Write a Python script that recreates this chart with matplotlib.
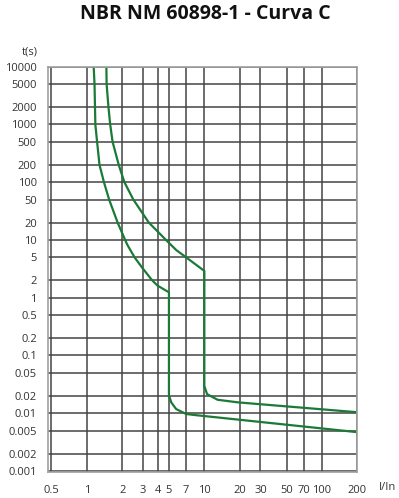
import matplotlib
matplotlib.use("Agg")
from matplotlib import pyplot as plt
from matplotlib.ticker import FixedLocator, FixedFormatter, NullLocator

# curve C, lower limit (instantaneous trip at 5 In)
i_low = [1.145, 1.164, 1.183, 1.224, 1.283, 1.40, 1.55, 1.83, 2.12, 2.21, 2.55, 2.97, 3.6, 4.0, 5.0, 5.0, 5.23, 5.76, 7.0, 8.3, 200]
t_low = [10000, 5000, 1000, 500, 200, 100, 50, 20, 10, 8.3, 5.0, 3.28, 2.0, 1.62, 1.24, 0.0205, 0.0154, 0.0118, 0.0097, 0.0093, 0.0047]

# curve C, upper limit (instantaneous trip at 10 In)
i_up = [1.468, 1.475, 1.529, 1.582, 1.658, 1.87, 2.09, 2.49, 3.37, 4.72, 5.76, 7.0, 10.0, 10.0, 10.55, 12.97, 19.4, 200]
t_up = [10000, 5000, 2000, 1000, 500, 200, 100, 50, 20, 10, 6.7, 5.0, 2.91, 0.0296, 0.0214, 0.0171, 0.0154, 0.0104]

x_ticks = [0.5, 1, 2, 3, 4, 5, 7, 10, 20, 30, 50, 70, 100, 200]
y_ticks = [10000, 5000, 2000, 1000, 500, 200, 100, 50, 20, 10, 5, 2, 1,
           0.5, 0.2, 0.1, 0.05, 0.02, 0.01, 0.005, 0.002, 0.001]
x_labels = ["0.5", "1", "2", "3", "4", "5", "7", "10", "20", "30", "50", "70", "100", "200"]
y_labels = ["10000", "5000", "2000", "1000", "500", "200", "100", "50", "20", "10", "5", "2", "1",
            "0.5", "0.2", "0.1", "0.05", "0.02", "0.01", "0.005", "0.002", "0.001"]

plt.rcParams['font.family'] = ['Open Sans', 'DejaVu Sans']

fig = plt.figure(figsize=(3.99, 4.98), dpi=100)
ax = fig.add_axes([48 / 399, 1 - 472 / 498, (357.3 - 48) / 399, (472 - 66.7) / 498])

ax.set_xscale('log')
ax.set_yscale('log')
ax.set_xlim(0.468, 200)
ax.set_ylim(0.00096, 10000)

ax.xaxis.set_major_locator(FixedLocator(x_ticks))
ax.xaxis.set_major_formatter(FixedFormatter(x_labels))
ax.xaxis.set_minor_locator(NullLocator())
ax.yaxis.set_major_locator(FixedLocator(y_ticks))
ax.yaxis.set_major_formatter(FixedFormatter(y_labels))
ax.yaxis.set_minor_locator(NullLocator())

ax.grid(True, which='major', color='#444444', linewidth=1.1)
ax.set_axisbelow(True)
ax.tick_params(length=0, labelsize=8, labelcolor='#333333')
ax.tick_params(axis='y', pad=8)
ax.tick_params(axis='x', pad=9)
for s in ax.spines.values():
    s.set_color('#a0a0a0')
    s.set_linewidth(1.2)

green = '#1b7a36'
ax.plot(i_low, t_low, color=green, linewidth=1.6, solid_joinstyle='round')
ax.plot(i_up, t_up, color=green, linewidth=1.6, solid_joinstyle='round')

fig.text(205 / 399, 1 - 14 / 498, "NBR NM 60898-1 - Curva C", ha='center', va='center',
         fontsize=14, fontweight='bold', color='#111111')
fig.text(38 / 399, 1 - 52 / 498, "t(s)", ha='right', va='center', fontsize=8, color='#333333')
fig.text(388 / 399, 1 - 487 / 498, "I/In", ha='center', va='center', fontsize=8, color='#333333')

fig.savefig("out.png", dpi=100)
